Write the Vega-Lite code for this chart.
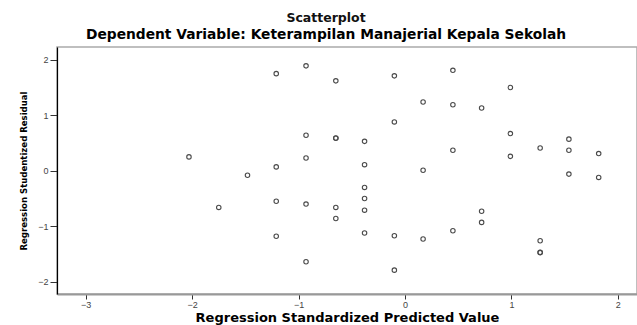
{
  "$schema": "https://vega.github.io/schema/vega-lite/v6.json",
  "width": 580,
  "height": 247,
  "autosize": "none",
  "padding": {"left": 57, "top": 47, "right": 0, "bottom": 31},
  "background": "white",
  "title": {
    "text": "Scatterplot",
    "subtitle": "Dependent Variable: Keterampilan Manajerial Kepala Sekolah",
    "anchor": "middle",
    "dx": -21,
    "offset": 5,
    "font": "DejaVu Sans",
    "fontSize": 12.5,
    "fontWeight": "bold",
    "color": "#111",
    "subtitleFont": "DejaVu Sans",
    "subtitleFontSize": 13.8,
    "subtitleFontWeight": "bold",
    "subtitleColor": "#000",
    "subtitlePadding": 4
  },
  "config": {
    "view": {"stroke": "#aaa", "strokeWidth": 1.5},
    "axis": {
      "grid": false,
      "labelFont": "Liberation Sans",
      "labelFontSize": 9,
      "labelColor": "#444",
      "tickColor": "#333",
      "titleFont": "DejaVu Sans",
      "titleFontWeight": "bold",
      "titleColor": "#000"
    }
  },
  "data": {
    "values": [
      {"pred": -2.03, "resid": 0.25},
      {"pred": -1.75, "resid": -0.66},
      {"pred": -1.48, "resid": -0.08},
      {"pred": -1.21, "resid": 1.75},
      {"pred": -1.21, "resid": 0.07},
      {"pred": -1.21, "resid": -0.55},
      {"pred": -1.21, "resid": -1.18},
      {"pred": -0.93, "resid": 1.89},
      {"pred": -0.93, "resid": 0.64},
      {"pred": -0.93, "resid": 0.23},
      {"pred": -0.93, "resid": -0.6},
      {"pred": -0.93, "resid": -1.64},
      {"pred": -0.65, "resid": 1.62},
      {"pred": -0.65, "resid": 0.59},
      {"pred": -0.65, "resid": 0.585},
      {"pred": -0.65, "resid": -0.66},
      {"pred": -0.65, "resid": -0.86},
      {"pred": -0.38, "resid": 0.53},
      {"pred": -0.38, "resid": 0.11},
      {"pred": -0.38, "resid": -0.3},
      {"pred": -0.38, "resid": -0.5},
      {"pred": -0.38, "resid": -0.71},
      {"pred": -0.38, "resid": -1.12},
      {"pred": -0.1, "resid": 1.71},
      {"pred": -0.1, "resid": 0.88},
      {"pred": -0.1, "resid": -1.17},
      {"pred": -0.1, "resid": -1.79},
      {"pred": 0.17, "resid": 1.24},
      {"pred": 0.17, "resid": 0.01},
      {"pred": 0.17, "resid": -1.23},
      {"pred": 0.45, "resid": 1.81},
      {"pred": 0.45, "resid": 1.19},
      {"pred": 0.45, "resid": 0.37},
      {"pred": 0.45, "resid": -1.08},
      {"pred": 0.72, "resid": 1.13},
      {"pred": 0.72, "resid": -0.73},
      {"pred": 0.72, "resid": -0.93},
      {"pred": 0.99, "resid": 1.5},
      {"pred": 0.99, "resid": 0.67},
      {"pred": 0.99, "resid": 0.26},
      {"pred": 1.27, "resid": 0.41},
      {"pred": 1.27, "resid": -1.26},
      {"pred": 1.27, "resid": -1.47},
      {"pred": 1.27, "resid": -1.475},
      {"pred": 1.54, "resid": 0.57},
      {"pred": 1.54, "resid": 0.37},
      {"pred": 1.54, "resid": -0.06},
      {"pred": 1.82, "resid": 0.31},
      {"pred": 1.82, "resid": -0.12}
    ]
  },
  "mark": {"type": "point", "shape": "circle", "filled": false, "stroke": "#4a4a4a", "strokeWidth": 1.1, "size": 20, "opacity": 1},
  "encoding": {
    "x": {
      "field": "pred",
      "type": "quantitative",
      "scale": {"domain": [-3.27, 2.18], "nice": false, "zero": false},
      "axis": {
        "title": "Regression Standardized Predicted Value",
        "titleFontSize": 13,
        "titlePadding": 2,
        "values": [-3, -2, -1, 0, 1, 2],
        "format": "d",
        "domainColor": "#999",
        "domainWidth": 2,
        "tickSize": 5,
        "labelPadding": 1
      }
    },
    "y": {
      "field": "resid",
      "type": "quantitative",
      "scale": {"domain": [-2.22, 2.23], "nice": false, "zero": false},
      "axis": {
        "title": "Regression Studentized Residual",
        "titleFont": "DejaVu Sans Condensed, Liberation Sans",
        "titleFontSize": 9.5,
        "titlePadding": 9,
        "values": [-2, -1, 0, 1, 2],
        "format": "d",
        "domainColor": "#000",
        "domainWidth": 1.2,
        "tickSize": 7,
        "labelPadding": 2
      }
    }
  }
}
